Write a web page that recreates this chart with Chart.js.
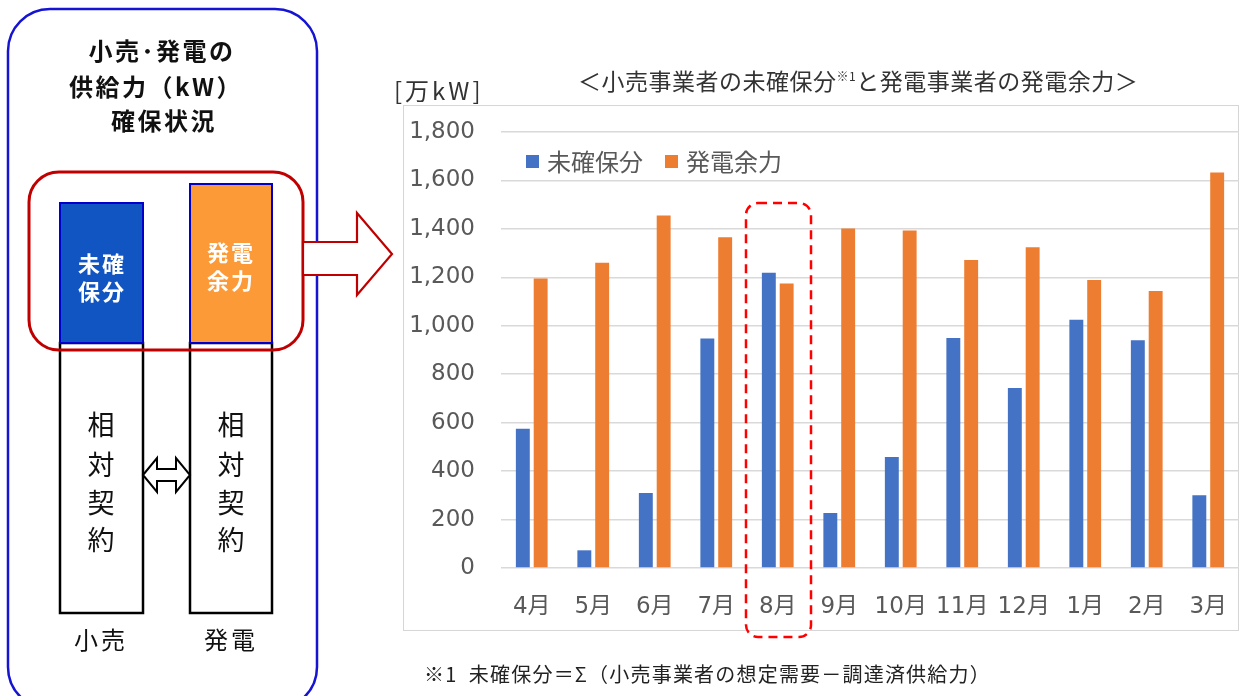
<!DOCTYPE html>
<html>
<head>
<meta charset="utf-8">
<script src="https://cdn.jsdelivr.net/npm/chart.js@4/dist/chart.umd.min.js"></script>
<style>
  html, body { margin: 0; padding: 0; background: #fff; }
  body { width: 1242px; height: 696px; position: relative; overflow: hidden; font-family: 'Noto Sans CJK JP', sans-serif; }
  .abs { position: absolute; white-space: nowrap; }
  #frame { position: absolute; left: 403px; top: 105px; width: 834px; height: 524px; border: 1.5px solid #d6d6d6; }
  #chart { position: absolute; left: 0; top: 0; }
  #overlay { position: absolute; left: 0; top: 0; pointer-events: none; }
</style>
</head>
<body>
<div id="frame"></div>
<canvas id="chart" width="1242" height="696"></canvas>

<div class="abs" style="left:578px; top:63px; font-size:23px; color:#333; letter-spacing:0.5px;">＜小売事業者の未確保分<sup style="font-size:12px;">※1</sup>と発電事業者の発電余力＞</div>
<div class="abs" style="left:394px; top:72px; font-size:24px; color:#333; letter-spacing:3px;">[万kW]</div>
<div class="abs" style="left:424px; top:659px; font-size:20px; color:#222; letter-spacing:1.2px;">※1&nbsp;&nbsp;未確保分＝Σ（小売事業者の想定需要－調達済供給力）</div>

<svg id="overlay" width="1242" height="696" xmlns="http://www.w3.org/2000/svg">
  <!-- left diagram -->
  <rect x="8" y="9" width="309" height="700" rx="42" fill="none" stroke="#1414d2" stroke-width="2.5"/>
  <g font-family="Noto Sans CJK JP" font-weight="bold" font-size="24" fill="#111" text-anchor="middle" letter-spacing="2.5">
    <text x="162" y="60">小売･発電の</text>
    <text x="156" y="96">供給力（kW）</text>
    <text x="164" y="130">確保状況</text>
  </g>
  <rect x="60" y="343" width="83" height="270" fill="#fff" stroke="#000" stroke-width="2.5"/>
  <rect x="190" y="343" width="82" height="270" fill="#fff" stroke="#000" stroke-width="2.5"/>
  <rect x="60" y="203" width="83" height="140" fill="#1155c2" stroke="#0000cc" stroke-width="2"/>
  <rect x="190" y="184" width="82" height="159" fill="#fd9a38" stroke="#0000cc" stroke-width="2"/>
  <g font-family="Noto Sans CJK JP" font-weight="bold" font-size="22" fill="#fff" text-anchor="middle" letter-spacing="2" dominant-baseline="central">
    <text x="102" y="262">未確</text>
    <text x="102" y="290">保分</text>
    <text x="231" y="251">発電</text>
    <text x="231" y="279">余力</text>
  </g>
  <rect x="29" y="172" width="274" height="178" rx="30" fill="none" stroke="#c00000" stroke-width="3"/>
  <g font-family="Noto Sans CJK JP" font-size="27" fill="#111" text-anchor="middle" dominant-baseline="central">
    <text x="101" y="423">相</text><text x="101" y="463">対</text><text x="101" y="501">契</text><text x="101" y="538">約</text>
    <text x="231" y="423">相</text><text x="231" y="463">対</text><text x="231" y="501">契</text><text x="231" y="538">約</text>
  </g>
  <polygon points="143,475 157,458 157,469 176,469 176,458 190,475 176,492 176,481 157,481 157,492" fill="#fff" stroke="#000" stroke-width="2"/>
  <g font-family="Noto Sans CJK JP" font-size="24" fill="#111" text-anchor="middle" letter-spacing="3" dominant-baseline="central">
    <text x="101" y="638">小売</text>
    <text x="231" y="638">発電</text>
  </g>
  <!-- red block arrow -->
  <polygon points="303,242 357,242 357,213 392,254 357,295 357,275 303,275" fill="#fff" stroke="#c00000" stroke-width="2.2"/>
  <!-- dashed highlight around 8月 -->
  <rect x="746" y="203" width="65" height="434" rx="12" fill="none" stroke="#ff0000" stroke-width="2.5" stroke-dasharray="9 6"/>
</svg>

<script>
const months = ['4月', '5月', '6月', '7月', '8月', '9月', '10月', '11月', '12月', '1月', '2月', '3月'];
const unsecured = [575, 73, 310, 947, 1219, 227, 458, 950, 743, 1025, 940, 300];
const surplus = [1195, 1260, 1455, 1365, 1175, 1402, 1393, 1272, 1324, 1189, 1144, 1633];
const seriesNames = ['未確保分', '発電余力'];
const seriesColors = ['#4472c4', '#ed7d31'];
const yTicks = [0, 200, 400, 600, 800, 1000, 1200, 1400, 1600, 1800];

const tickFont = { family: "'DejaVu Sans', 'Noto Sans CJK JP'", size: 23 };

// legend sits inside the plot, so draw it by hand
const insideLegend = {
    id: 'insideLegend',
    afterDraw(chart) {
        const ctx = chart.ctx;
        const starts = [526, 665];
        ctx.save();
        ctx.font = "24px 'Noto Sans CJK JP'";
        ctx.textBaseline = 'middle';
        chart.data.datasets.forEach((ds, i) => {
            ctx.fillStyle = ds.backgroundColor;
            ctx.fillRect(starts[i], 155, 13, 13);
            ctx.fillStyle = '#595959';
            ctx.fillText(ds.label, starts[i] + 21, 162);
        });
        ctx.restore();
    }
};

new Chart(document.getElementById('chart'), {
    type: 'bar',
    data: {
        labels: months,
        datasets: [{
            label: seriesNames[0],
            data: unsecured,
            backgroundColor: seriesColors[0],
            categoryPercentage: 0.58,
            barPercentage: 0.78
        }, {
            label: seriesNames[1],
            data: surplus,
            backgroundColor: seriesColors[1],
            categoryPercentage: 0.58,
            barPercentage: 0.78
        }]
    },
    options: {
        responsive: false,
        animation: false,
        devicePixelRatio: 1,
        locale: 'en-US',
        layout: {
            padding: { left: 403, right: 3, top: 132, bottom: 68 }
        },
        scales: {
            y: {
                min: 0,
                max: 1800,
                afterFit: (scale) => { scale.width = 98; },
                afterBuildTicks: (scale) => { scale.ticks = yTicks.map(v => ({ value: v })); },
                ticks: {
                    font: tickFont,
                    color: '#595959',
                    padding: 26,
                    callback: (v) => v.toLocaleString('en-US')
                },
                grid: { color: '#d9d9d9', lineWidth: 1.5, drawTicks: false },
                border: { display: false }
            },
            x: {
                afterFit: (scale) => {
                    scale.height = 60;
                    scale.paddingLeft = 0;
                    scale.paddingRight = 0;
                },
                ticks: { font: tickFont, color: '#595959', padding: 25 },
                grid: { display: false, drawTicks: false },
                border: { display: false }
            }
        },
        plugins: {
            legend: { display: false },
            tooltip: { enabled: false }
        }
    },
    plugins: [insideLegend]
});
</script>
</body>
</html>
